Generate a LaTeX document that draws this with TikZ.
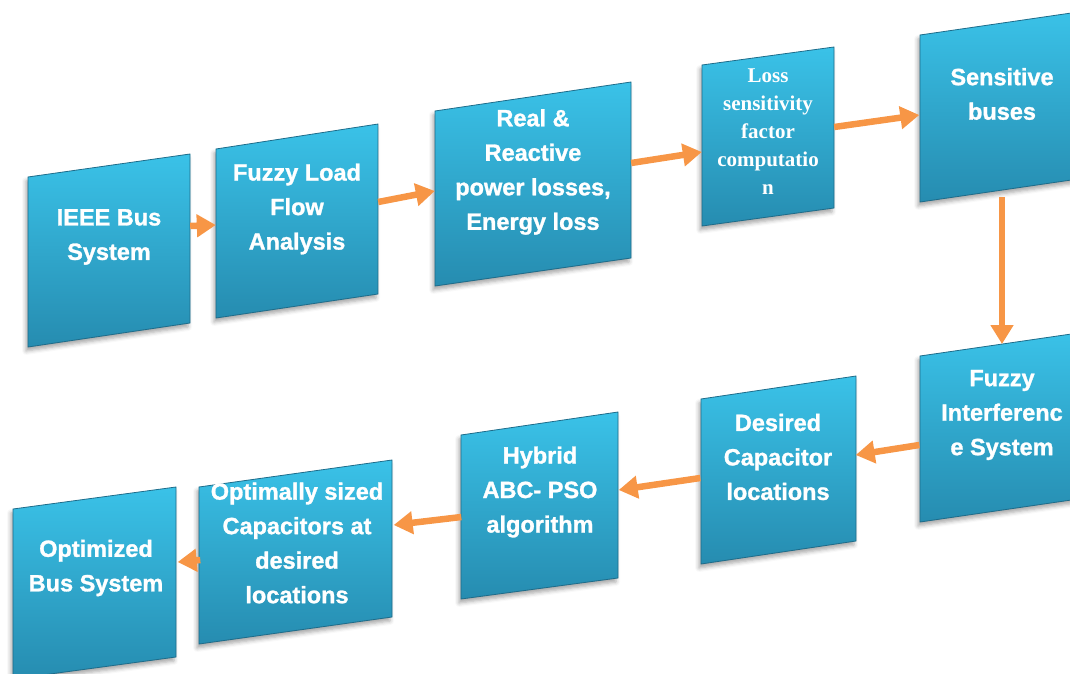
\documentclass[tikz,border=0pt]{standalone}
\usepackage{fontspec}
\newfontfamily\boxsans{Liberation Sans}[BoldFeatures={FakeBold=1.2}]
\newfontfamily\boxserif{Liberation Serif}
\usetikzlibrary{arrows.meta,shadows.blur}
\definecolor{panelTop}{RGB}{58,194,232}
\definecolor{panelBot}{RGB}{38,140,176}
\definecolor{panelEdge}{RGB}{30,108,138}
\definecolor{flowOrange}{RGB}{247,150,70}

\begin{document}
\begin{tikzpicture}[x=1pt, y=-1pt,
  panel/.style={top color=panelTop, bottom color=panelBot, draw=panelEdge, line width=0.8pt,
                blur shadow={shadow xshift=-2pt, shadow yshift=-4pt,
                             shadow blur radius=4pt, shadow opacity=35}},
  txt/.style={text=white, align=center, inner sep=0pt, minimum width=#1,
              font=\boxsans\bfseries\fontsize{23.5}{34.5}\selectfont},
  flow/.style={-{Triangle[length=19pt, width=22pt]}, line width=6.5pt, flowOrange}
]
\clip (0,0) rectangle (1070,674);

% Slanted panels, top row
\shade[panel] (28,177) -- (190,154) -- (190,323) -- (28,347) -- cycle;
\shade[panel] (216,149) -- (378,124) -- (378,294) -- (216,318) -- cycle;
\shade[panel] (435,111) -- (631,82) -- (631,258) -- (435,286) -- cycle;
\shade[panel] (702,65) -- (834,47) -- (834,208) -- (702,226) -- cycle;
\shade[panel] (920,35) -- (1085,11) -- (1085,178) -- (920,202) -- cycle;

% Slanted panels, bottom row
\shade[panel] (920,356) -- (1085,332) -- (1085,498) -- (920,522) -- cycle;
\shade[panel] (701,399) -- (856,376) -- (856,541) -- (701,564) -- cycle;
\shade[panel] (461,435) -- (618,412) -- (618,578) -- (461,599) -- cycle;
\shade[panel] (199,487) -- (392,460) -- (392,617) -- (199,644) -- cycle;
\shade[panel] (13,509) -- (176,487) -- (176,657) -- (13,679) -- cycle;

% Labels
\node[txt=162pt] (ieee) at (109,237) {IEEE Bus\\System};
\node[txt=162pt] (flf) at (297,209) {Fuzzy Load\\Flow\\Analysis};
\node[txt=196pt] (loss) at (533,172) {Real \&\\Reactive\\power losses,\\Energy loss};
\node[txt=132pt, font=\boxserif\bfseries\fontsize{21}{28}\selectfont] (lsf) at (768,132)
  {Loss\\sensitivity\\factor\\computatio\\n};
\node[txt=165pt] (sens) at (1002,94) {Sensitive\\buses};
\node[txt=165pt] (fis) at (1002,415) {Fuzzy\\Interferenc\\e System};
\node[txt=155pt] (dcl) at (778,457) {Desired\\Capacitor\\locations};
\node[txt=157pt] (abc) at (540,492) {Hybrid\\ABC- PSO\\algorithm};
\node[txt=193pt] (osc) at (297,543) {Optimally sized\\Capacitors at\\desired\\locations};
\node[txt=163pt] (obs) at (96,568) {Optimized\\Bus System};

% Flow arrows
\draw[flow] ([yshift=11pt]ieee.east) -- ([yshift=-16pt]flf.west);
\draw[flow] ([yshift=7pt]flf.east) -- ([yshift=-19pt]loss.west);
\draw[flow] ([yshift=9pt]loss.east) -- ([yshift=-20pt]lsf.west);
\draw[flow] ([yshift=5pt]lsf.east) -- ([yshift=-21pt]sens.west);
\draw[flow] ([yshift=-103pt]sens.center) -- ([yshift=71pt]fis.center);
\draw[flow] ([yshift=-30pt]fis.west) -- ([yshift=2pt]dcl.east);
\draw[flow] ([yshift=-21pt]dcl.west) -- ([yshift=2pt]abc.east);
\draw[flow] ([yshift=-25pt]abc.west) -- ([yshift=18pt]osc.east);
\draw[flow] ([yshift=-17pt]osc.west) -- ([yshift=6pt]obs.east);

\end{tikzpicture}
\end{document}
